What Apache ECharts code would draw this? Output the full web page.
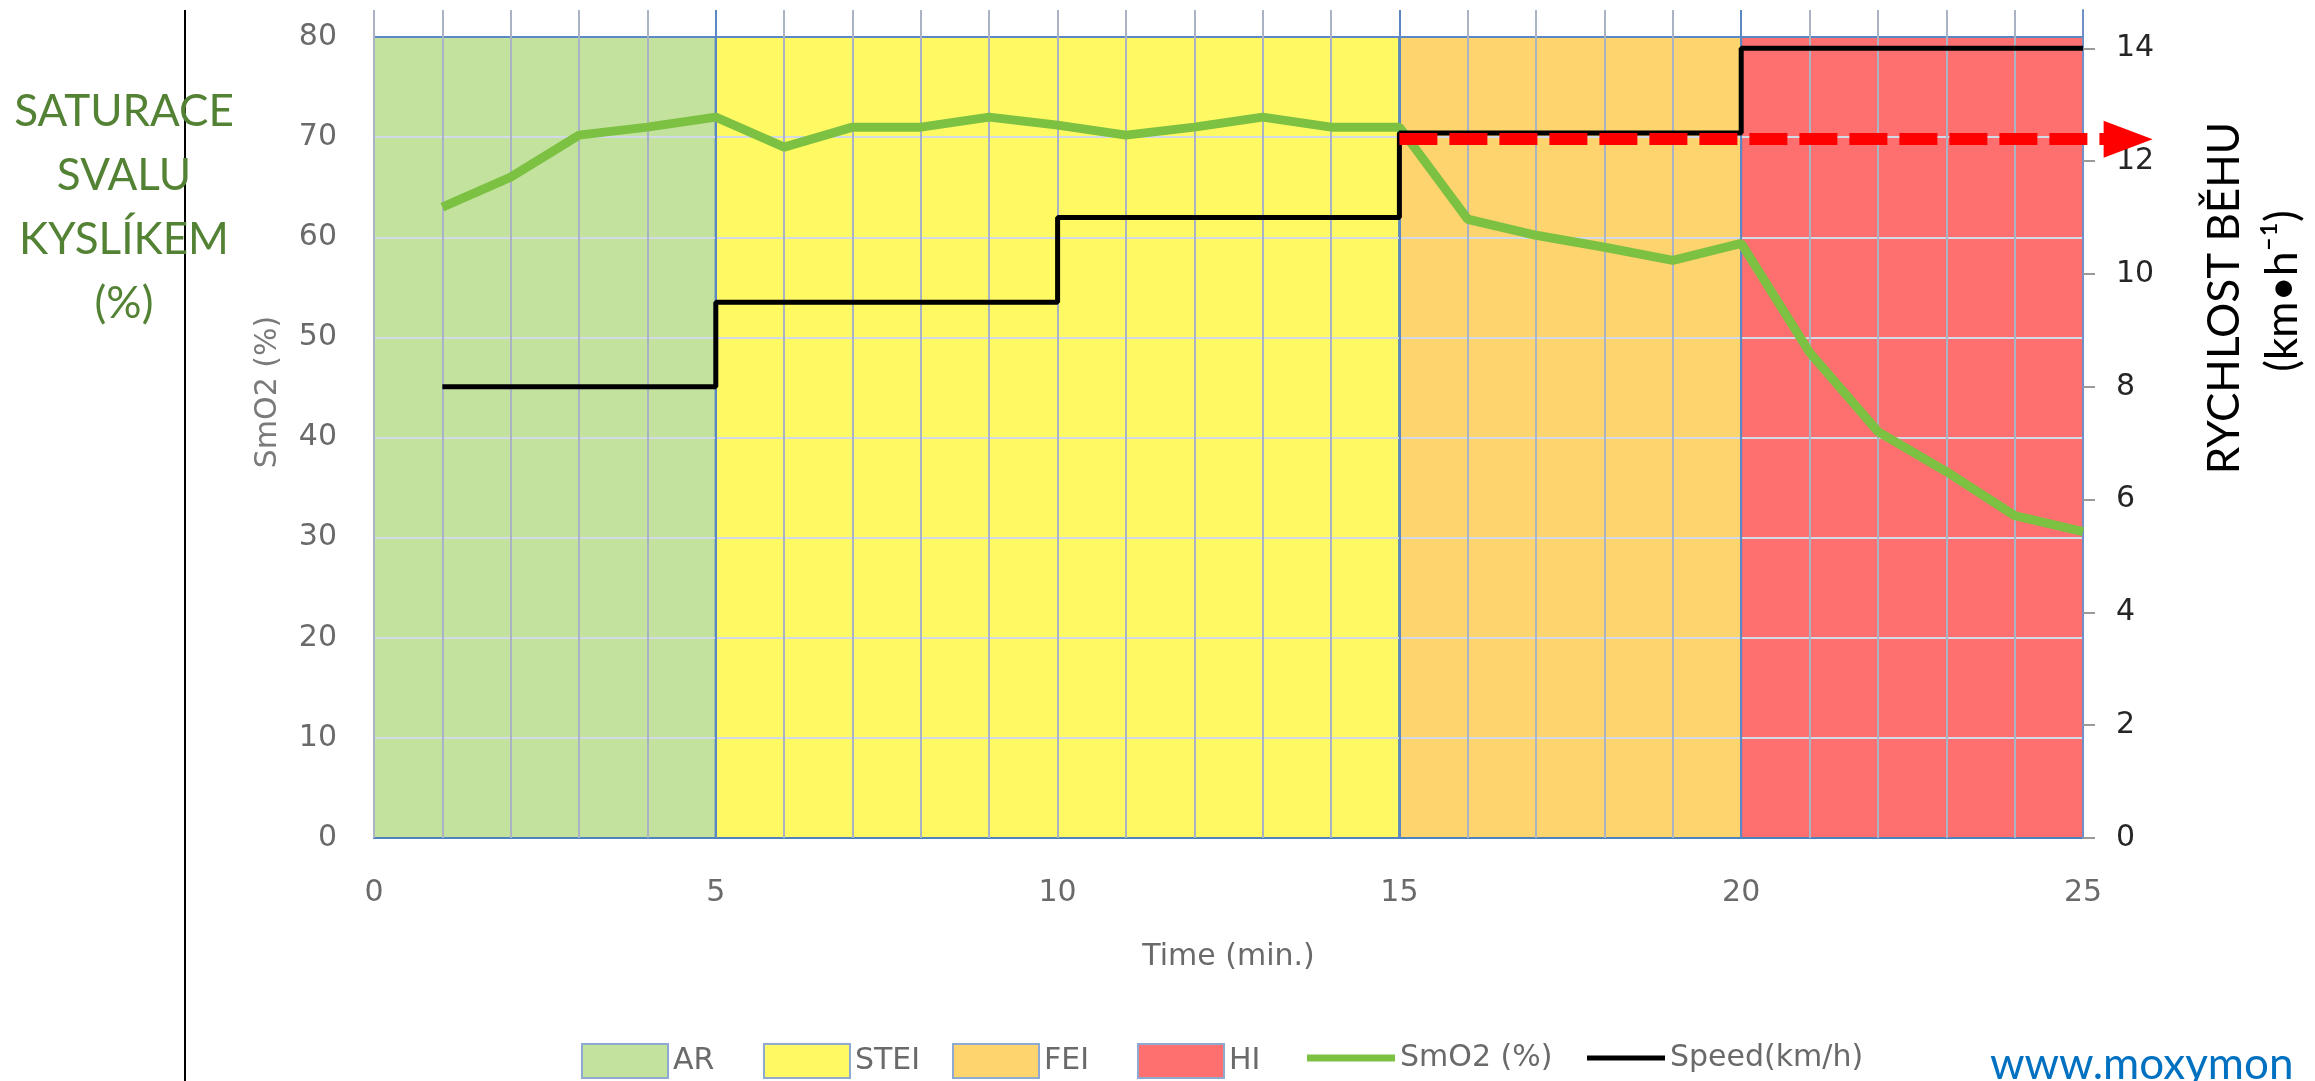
<!DOCTYPE html>
<html>
<head>
<meta charset="utf-8">
<script src="https://cdn.jsdelivr.net/npm/echarts@6/dist/echarts.min.js"></script>
<style>
html,body{margin:0;padding:0;background:#fff;}
#chart{width:2315px;height:1081px;}
</style>
</head>
<body>
<div id="chart"></div>
<script>
// ---- data ----
const times = [1,2,3,4,5,6,7,8,9,10,11,12,13,14,15,16,17,18,19,20,21,22,23,24,25];
const smo2 = [63,66,70.2,71,72,69,71,71,72,71.2,70.2,71,72,71,71,61.8,60.2,59,57.7,59.4,48.5,40.6,36.6,32.2,30.6];
const speedTimes = [1,5,10,15,20,25];
const speedValues = [8,9.5,11,12.5,14,14];
const zoneNames = ['AR','STEI','FEI','HI'];
const zoneStarts = [0,5,15,20];
const zoneEnds = [5,15,20,25];
const zoneTop = 80;
const zoneColors = ['#c3e29e','#fff964','#fed46e','#fe6f6f'];
const xLabels = [0,5,10,15,20,25];
const leftTicks = [0,10,20,30,40,50,60,70,80];
const rightTicks = [0,2,4,6,8,10,12,14];
const arrowStart = [15,12.39];
const arrowEnd = [25.66,12.39];

const FONT = 'DejaVu Sans';
const BLUE = '#5b87c5';
const xTickValues = [];
for (let t = 0; t <= 25; t++) xTickValues.push(t);
const xGridColors = xTickValues.map(t => (zoneStarts.indexOf(t) > 0) ? BLUE : '#aab3c3');
const yGridColors = leftTicks.slice(1).map(v => v === zoneTop ? BLUE : '#d2dae8');

const chart = echarts.init(document.getElementById('chart'));

const zoneSeries = zoneNames.map((n, i) => ({
  name: n, type: 'line', data: [], z: 1,
  itemStyle: {color: zoneColors[i]},
  markArea: {
    silent: true,
    itemStyle: {color: zoneColors[i], borderColor: '#4f81bd', borderWidth: 2},
    data: [[{coord: [zoneStarts[i], 0]}, {coord: [zoneEnds[i], zoneTop]}]]
  }
}));

const legendLefts = [581, 763, 952, 1137, 1307, 1587];
const legendNames = zoneNames.concat(['SmO2 (%)', 'Speed(km/h)']);
const legends = legendNames.map((n, i) => {
  const isZone = i < 4;
  return {
    left: legendLefts[i], top: 1043, padding: 0,
    itemWidth: isZone ? 86 : (i === 4 ? 88 : 78), itemHeight: 34,
    data: [{name: n, icon: isZone ? 'rect' : (i === 4 ? 'path://M0,0H88V7H0Z' : 'path://M0,0H78V5H0Z')}],
    itemStyle: isZone ? {borderColor: '#8eaad0', borderWidth: 2} : {borderWidth: 0},
    textStyle: {fontFamily: FONT, fontSize: 30, color: '#6a6a6a'},
    selectedMode: false
  };
});

const option = {
  backgroundColor: '#ffffff',
  animation: false,
  grid: {left: 374, right: 232, top: 10, bottom: 243},
  legend: legends,
  xAxis: [{
    type: 'value', min: 0, max: 25, interval: 1, z: 2,
    axisLine: {show: false}, axisTick: {show: false},
    axisLabel: {fontFamily: FONT, fontSize: 30, color: '#6a6a6a', margin: 40,
      formatter: v => xLabels.indexOf(v) >= 0 ? String(v) : ''},
    splitLine: {show: true, lineStyle: {color: xGridColors, width: 2}},
    name: 'Time (min.)', nameLocation: 'middle', nameGap: 104,
    nameTextStyle: {fontFamily: FONT, fontSize: 30, color: '#6a6a6a'}
  }],
  yAxis: [{
    type: 'value', min: 0, max: 82.7, interval: 10, z: 2,
    axisLine: {show: false}, axisTick: {show: false},
    axisLabel: {fontFamily: FONT, fontSize: 30, color: '#6a6a6a', margin: 37,
      customValues: leftTicks},
    splitLine: {show: true, showMinLine: false, showMaxLine: false,
      lineStyle: {color: yGridColors, width: 2}}
  }, {
    type: 'value', min: 0, max: 14.68, interval: 2, position: 'right', z: 2,
    axisLine: {show: true, lineStyle: {color: '#6f8fc6', width: 2}},
    axisTick: {show: true, inside: false, length: 12, customValues: rightTicks,
      lineStyle: {color: '#9a9a9a', width: 2}},
    axisLabel: {fontFamily: FONT, fontSize: 30, color: '#262626', margin: 33,
      customValues: rightTicks},
    splitLine: {show: false}
  }],
  graphic: [
    {type: 'line', shape: {x1: 185, y1: 10, x2: 185, y2: 1081}, style: {stroke: '#000', lineWidth: 2}, z: 10},
    {type: 'text', x: 124, y: 208, z: 11,
      style: {text: 'SATURACE\nSVALU\nKYSLÍKEM\n(%)', fill: '#548235', font: '44px Lato',
        lineHeight: 64, textAlign: 'center', textVerticalAlign: 'middle'}},
    {type: 'text', x: 268, y: 392, rotation: Math.PI / 2, z: 11,
      style: {text: 'SmO2 (%)', fill: '#7a7a7a', font: '30px "DejaVu Sans"',
        textAlign: 'center', textVerticalAlign: 'middle'}},
    {type: 'text', x: 2225, y: 298, rotation: Math.PI / 2, z: 11,
      style: {text: 'RYCHLOST BĚHU', fill: '#000', font: '44px Lato',
        textAlign: 'center', textVerticalAlign: 'middle'}},
    {type: 'text', x: 2283, y: 291, rotation: Math.PI / 2, z: 11,
      style: {text: '(km•h⁻¹)', fill: '#000', font: '44px Lato',
        textAlign: 'center', textVerticalAlign: 'middle'}},
    {type: 'text', x: 1990, y: 1065, z: 11,
      style: {text: 'www.moxymon', fill: '#0070c0', font: '44px Lato',
        textAlign: 'left', textVerticalAlign: 'middle'}}
  ],
  series: zoneSeries.concat([
    {
      name: 'SmO2 (%)', type: 'line', z: 3, showSymbol: false,
      data: times.map((t, i) => [t, smo2[i]]),
      lineStyle: {color: '#7cc142', width: 9},
      itemStyle: {color: '#7cc142'}
    },
    {
      name: 'Speed(km/h)', type: 'line', yAxisIndex: 1, z: 4, showSymbol: false, step: 'end',
      data: speedTimes.map((t, i) => [t, speedValues[i]]),
      lineStyle: {color: '#000000', width: 5},
      itemStyle: {color: '#000000'}
    },
    {
      type: 'lines', coordinateSystem: 'cartesian2d', xAxisIndex: 0, yAxisIndex: 1,
      z: 5, clip: false, silent: true,
      symbol: ['none', 'triangle'], symbolSize: [10, [37, 49]],
      lineStyle: {color: '#ff0000', width: 12, type: [38, 12], cap: 'butt', opacity: 1},
      itemStyle: {color: '#ff0000'},
      data: [{coords: [arrowStart, arrowEnd]}]
    }
  ])
};
chart.setOption(option);
</script>
</body>
</html>
